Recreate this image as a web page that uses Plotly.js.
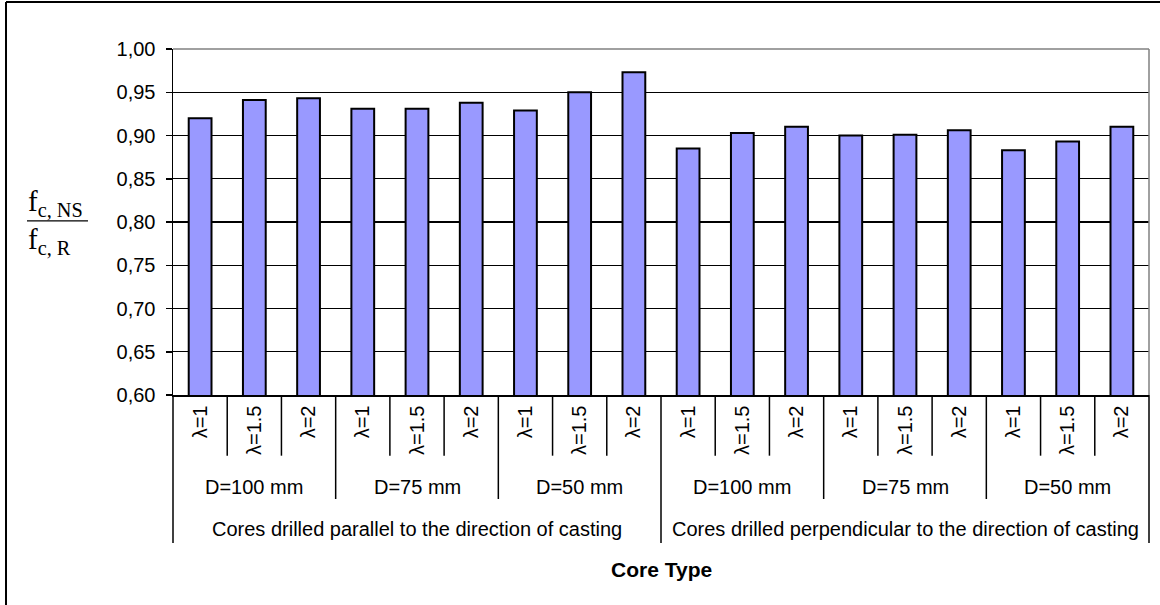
<!DOCTYPE html>
<html><head><meta charset="utf-8">
<script src="https://cdn.plot.ly/plotly-3.0.1.min.js"></script>
<style>html,body{margin:0;padding:0;background:#fff}#chart{width:1160px;height:605px}</style>
</head><body><div id="chart"></div>
<script>
const groups = ["Cores drilled parallel to the direction of casting", "Cores drilled perpendicular to the direction of casting"];
const diameters = ["D=100 mm", "D=75 mm", "D=50 mm"];
const lambdas = ["λ=1", "λ=1.5", "λ=2"];
const parallelValues = [0.920, 0.941, 0.943, 0.931, 0.931, 0.938, 0.929, 0.950, 0.973];
const perpendicularValues = [0.885, 0.903, 0.910, 0.900, 0.901, 0.906, 0.883, 0.893, 0.910];
const xAxisTitle = "Core Type";

const FONT = "Liberation Sans, Arial, sans-serif";
const SERIF = "Liberation Serif, Times New Roman, serif";

const values = parallelValues.concat(perpendicularValues);
const xs = [], tickText = [];
let k = 0;
groups.forEach(() => diameters.forEach(() => lambdas.forEach(l => { xs.push(k++); tickText.push(l); })));
const nL = lambdas.length, nD = diameters.length, nAll = xs.length;

const shapes = [];
const annotations = [];
const yLam = -0.1754, yDia = -0.3006, yGrp = -0.4277;
for (let i = 1; i < nAll; i++) {
  let y1 = yLam;
  if (i % (nL * nD) === 0) y1 = yGrp; else if (i % nL === 0) y1 = yDia;
  shapes.push({type: 'line', xref: 'x', yref: 'paper', x0: i - 0.5, x1: i - 0.5, y0: 0, y1: y1, line: {color: '#000', width: 1.5}});
}
shapes.push({type: 'line', xref: 'paper', yref: 'paper', x0: 0, x1: 0, y0: 0, y1: yGrp, line: {color: '#000', width: 1.5}});
shapes.push({type: 'line', xref: 'paper', yref: 'paper', x0: 1, x1: 1, y0: 0, y1: yGrp, line: {color: '#000', width: 1.5}});
shapes.push({type: 'line', xref: 'paper', yref: 'paper', x0: 0, x1: 1, y0: 1, y1: 1, line: {color: '#808080', width: 1.5}});
shapes.push({type: 'line', xref: 'paper', yref: 'paper', x0: 1, x1: 1, y0: 0, y1: 1, line: {color: '#808080', width: 1.5}});
shapes.push({type: 'line', xref: 'paper', yref: 'paper', x0: -0.1711, x1: 1.05, y0: 1.1358, y1: 1.1358, line: {color: '#000', width: 2}});
shapes.push({type: 'line', xref: 'paper', yref: 'paper', x0: -0.1711, x1: -0.1711, y0: 1.1358, y1: -0.65, line: {color: '#000', width: 2}});
shapes.push({type: 'line', xref: 'paper', yref: 'paper', x0: -0.1496, x1: -0.0871, y0: 0.503, y1: 0.503, line: {color: '#000', width: 1.2}});

groups.forEach((g, gi) => {
  diameters.forEach((d, di) => {
    const start = (gi * nD + di) * nL;
    annotations.push({xref: 'x', yref: 'paper', x: start + (nL - 1) / 2, y: -0.266, text: d, showarrow: false,
      xanchor: 'center', yanchor: 'middle', font: {family: FONT, size: 20, color: '#000'}});
  });
  const gs = gi * nD * nL;
  annotations.push({xref: 'x', yref: 'paper', x: gs + (nD * nL - 1) / 2, y: -0.387, text: g, showarrow: false,
    xanchor: 'center', yanchor: 'middle', font: {family: FONT, size: 20, color: '#000'}});
});
annotations.push({xref: 'paper', yref: 'paper', x: 0.5, y: -0.503, text: '<b>' + xAxisTitle + '</b>', showarrow: false,
  xanchor: 'center', yanchor: 'middle', font: {family: FONT, size: 21, color: '#000'}});
annotations.push({xref: 'paper', yref: 'paper', x: -0.1506, y: 0.503, yshift: -2, text: 'f<sub>c, NS</sub>', showarrow: false,
  xanchor: 'left', yanchor: 'bottom', font: {family: SERIF, size: 29, color: '#000'}});
annotations.push({xref: 'paper', yref: 'paper', x: -0.1506, y: 0.503, yshift: 0, text: 'f<sub>c, R</sub>', showarrow: false,
  xanchor: 'left', yanchor: 'top', font: {family: SERIF, size: 29, color: '#000'}});

const trace = {
  type: 'bar', x: xs, y: values,
  marker: {color: '#9999FF', line: {color: '#000', width: 2}},
  hoverinfo: 'y'
};

const layout = {
  width: 1160, height: 605,
  margin: {l: 173, r: 11, t: 49, b: 210},
  paper_bgcolor: '#fff', plot_bgcolor: '#fff',
  separators: ', ',
  bargap: 0.58,
  showlegend: false,
  font: {family: FONT, size: 20, color: '#000'},
  xaxis: {
    range: [-0.5, nAll - 0.5], tickmode: 'array', tickvals: xs, ticktext: tickText,
    tickangle: -90, ticks: '', showgrid: false, zeroline: false,
    showline: true, linecolor: '#000', linewidth: 1.5,
    ticklabelstandoff: 1,
    tickfont: {family: FONT, size: 20, color: '#000'}
  },
  yaxis: {
    range: [0.6, 1.0], dtick: 0.05, tick0: 0.6, tickformat: '.2f',
    ticks: 'outside', ticklen: 6, tickcolor: '#000', tickwidth: 1.5,
    showline: true, linecolor: '#000', linewidth: 1.5,
    showgrid: true, gridcolor: '#000', gridwidth: 1.2, zeroline: false,
    ticklabelstandoff: 6,
    tickfont: {family: FONT, size: 20, color: '#000'}
  },
  shapes: shapes,
  annotations: annotations
};

Plotly.newPlot('chart', [trace], layout, {displayModeBar: false, staticPlot: true});
</script></body></html>
